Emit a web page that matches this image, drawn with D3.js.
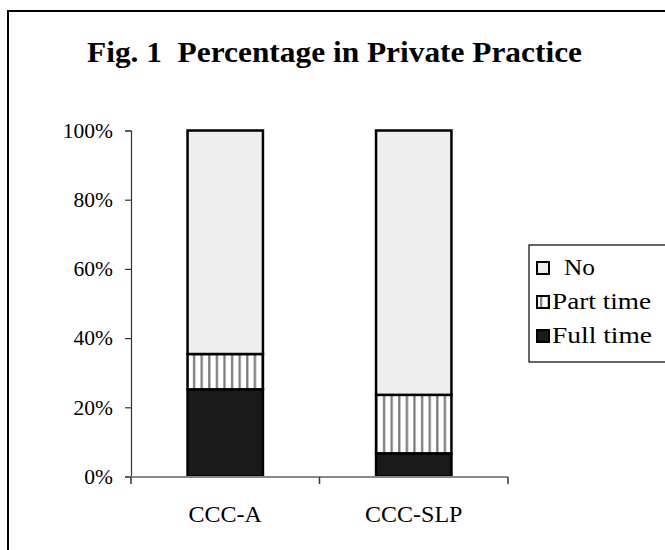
<!DOCTYPE html>
<html>
<head>
<meta charset="utf-8">
<script src="https://cdn.jsdelivr.net/npm/d3@7"></script>
<style>
  body { margin: 0; background: #fff; }
  text { font-family: "Liberation Serif", "DejaVu Serif", serif; }
</style>
</head>
<body>
<div id="chart"></div>
<script>
const groups = ['CCC-A', 'CCC-SLP'];
const fullTime = [25.2, 6.7];
const partTime = [10.2, 16.9];
const noPractice = [64.6, 76.4];
const yTicks = [0, 20, 40, 60, 80, 100];
const seriesNames = ['Full time', 'Part time', 'No'];

const w = 665;
const h = 550;

const svg = d3.select('#chart')
  .append('svg')
  .attr('width', w)
  .attr('height', h);

const defs = svg.append('defs');
const pat = defs.append('pattern')
  .attr('id', 'vstripes')
  .attr('patternUnits', 'userSpaceOnUse')
  .attr('width', 7.6)
  .attr('height', 10);
pat.append('rect').attr('width', 7.6).attr('height', 10).attr('fill', '#fff');
pat.append('rect').attr('x', 3).attr('width', 2.2).attr('height', 10).attr('fill', '#777');

// outer frame (only left and top visible)
svg.append('path')
  .attr('d', 'M8,560 V11 H680')
  .attr('fill', 'none')
  .attr('stroke', '#000')
  .attr('stroke-width', 2);

svg.append('text')
  .attr('x', 87)
  .attr('y', 62)
  .attr('font-size', 30)
  .attr('font-weight', 'bold')
  .attr('textLength', 495)
  .attr('lengthAdjust', 'spacingAndGlyphs')
  .style('white-space', 'pre')
  .text('Fig. 1  Percentage in Private Practice');

const xScale = d3.scaleBand()
  .domain(groups)
  .range([131, 508])
  .paddingInner(0.6)
  .paddingOuter(0.3);

const yScale = d3.scaleLinear()
  .domain([0, 100])
  .range([476.5, 130.5]);

const stackData = groups.map((g, i) => ({
  group: g, 'Full time': fullTime[i], 'Part time': partTime[i], 'No': noPractice[i]
}));
const stacked = d3.stack().keys(seriesNames)(stackData);
const fills = { 'Full time': '#1a1a1a', 'Part time': 'url(#vstripes)', 'No': '#eeeeee' };

svg.selectAll('g.layer')
  .data(stacked)
  .enter()
  .append('g')
  .attr('class', 'layer')
  .attr('fill', d => fills[d.key])
  .selectAll('rect')
  .data(d => d)
  .enter()
  .append('rect')
  .attr('x', d => xScale(d.data.group))
  .attr('y', d => yScale(d[1]))
  .attr('width', xScale.bandwidth())
  .attr('height', d => yScale(d[0]) - yScale(d[1]))
  .attr('stroke', '#000')
  .attr('stroke-width', 2.5);

// y axis
const yAxis = d3.axisLeft(yScale)
  .tickValues(yTicks)
  .tickFormat(d => d + '%')
  .tickSize(6)
  .tickPadding(12);

const gy = svg.append('g')
  .attr('transform', 'translate(131,0)')
  .call(yAxis);
gy.select('.domain').attr('stroke', '#333').attr('stroke-width', 1.2);
gy.selectAll('.tick line').attr('stroke', '#333').attr('stroke-width', 1.2);
gy.selectAll('.tick text')
  .attr('font-family', '"Liberation Serif", serif')
  .attr('font-size', 21.5)
  .attr('fill', '#000');

// x axis
const xAxis = d3.axisBottom(xScale).tickSize(0);
const gx = svg.append('g')
  .attr('transform', 'translate(0,477)')
  .call(xAxis);
gx.select('.domain').remove();
gx.append('line')
  .attr('x1', 131).attr('x2', 508)
  .attr('stroke', '#888').attr('stroke-width', 2);
const sepTicks = [131, (xScale('CCC-A') + xScale.bandwidth() + xScale('CCC-SLP')) / 2, 508];
gx.selectAll('line.sep')
  .data(sepTicks)
  .enter()
  .append('line')
  .attr('class', 'sep')
  .attr('x1', d => d).attr('x2', d => d)
  .attr('y1', 0).attr('y2', 7)
  .attr('stroke', '#333').attr('stroke-width', 1.5);
gx.selectAll('.tick text')
  .attr('font-family', '"Liberation Serif", serif')
  .attr('font-size', 24)
  .attr('fill', '#000')
  .attr('y', 45)
  .attr('dy', 0);

// legend
const legend = svg.append('g');
legend.append('rect')
  .attr('x', 529).attr('y', 245)
  .attr('width', 150).attr('height', 117)
  .attr('fill', '#fff')
  .attr('stroke', '#000')
  .attr('stroke-width', 1.2);

const legendItems = ['No', 'Part time', 'Full time'];
const legendWidths = { 'No': 31, 'Part time': 99, 'Full time': 100 };
const li = legend.selectAll('g.item')
  .data(legendItems)
  .enter()
  .append('g')
  .attr('class', 'item')
  .attr('transform', (d, i) => `translate(537,${262 + i * 34})`);
li.append('rect')
  .attr('width', 12).attr('height', 12)
  .attr('fill', d => fills[d])
  .attr('stroke', '#000')
  .attr('stroke-width', 2);
li.append('text')
  .attr('x', d => d === 'No' ? 27 : 15)
  .attr('y', 13)
  .attr('font-size', 22.5)
  .attr('textLength', d => legendWidths[d])
  .attr('lengthAdjust', 'spacingAndGlyphs')
  .text(d => d);
</script>
</body>
</html>
